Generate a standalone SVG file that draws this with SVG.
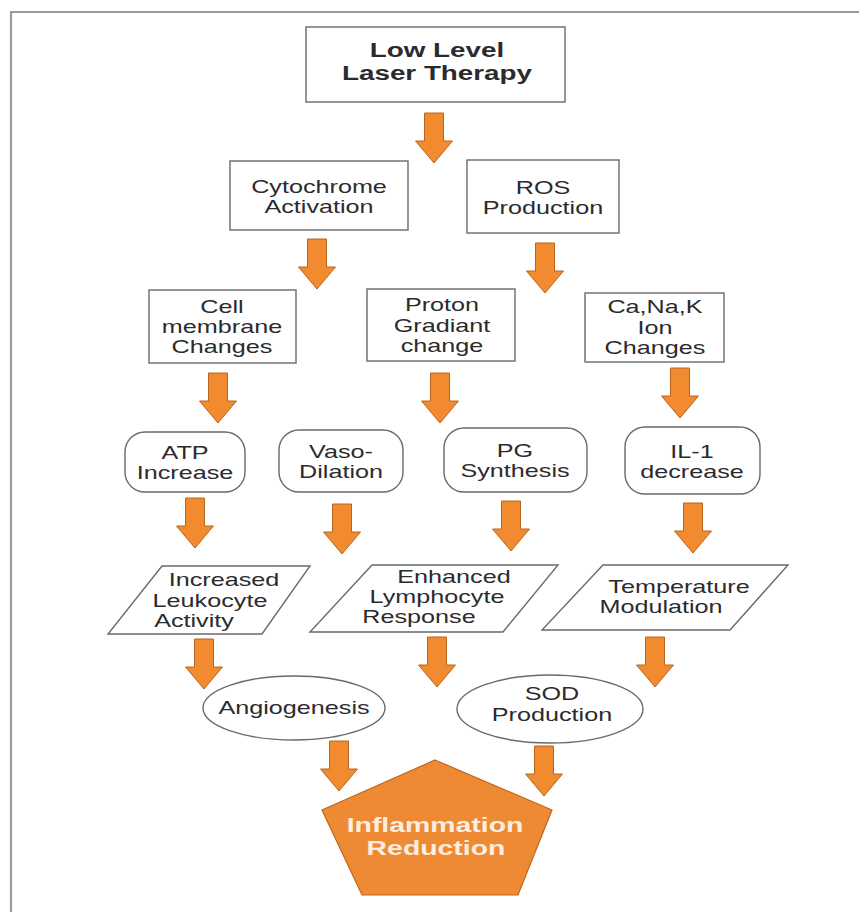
<svg xmlns="http://www.w3.org/2000/svg" xmlns:xlink="http://www.w3.org/1999/xlink" width="859" height="912" viewBox="0 0 859 912">
<style>
.box{fill:#ffffff;stroke:#6a6a6a;stroke-width:1.4}
.t{font-family:"Liberation Sans",Arial,sans-serif;font-size:18px;fill:#2b2b2e;text-anchor:middle}
.tb{font-family:"Liberation Sans",Arial,sans-serif;font-size:20px;font-weight:bold;fill:#2b2b2e;text-anchor:middle}
.tw{font-family:"Liberation Sans",Arial,sans-serif;font-size:20px;font-weight:bold;fill:#fbeee0;text-anchor:middle}
.arr{fill:#F28B30;stroke:#b8641e;stroke-width:1}
</style>
<defs>
<path id="arrow" d="M-9.5,0 H9.5 V28 H18.5 L0,50 L-18.5,28 H-9.5 Z"/>
</defs>
<rect width="859" height="912" fill="#ffffff"/>
<path d="M11,912 V12 H859" fill="none" stroke="#9a9a9a" stroke-width="2.2"/>

<g id="connectors" class="arr">
<use href="#arrow" x="434" y="113"/>
<use href="#arrow" x="317" y="239"/>
<use href="#arrow" x="545" y="243"/>
<use href="#arrow" x="218" y="373"/>
<use href="#arrow" x="440" y="373"/>
<use href="#arrow" x="680" y="368"/>
<use href="#arrow" x="195" y="498"/>
<use href="#arrow" x="342" y="504"/>
<use href="#arrow" x="511" y="501"/>
<use href="#arrow" x="693" y="503"/>
<use href="#arrow" x="204" y="639"/>
<use href="#arrow" x="437" y="637"/>
<use href="#arrow" x="655" y="637"/>
<use href="#arrow" x="339" y="741"/>
<use href="#arrow" x="544" y="746"/>
</g>

<g id="llt">
<rect class="box" x="306" y="27" width="259" height="75"/>
<text class="tb" transform="translate(437,57) scale(1.39,1)">Low Level</text>
<text class="tb" transform="translate(437,80) scale(1.39,1)">Laser Therapy</text>
</g>
<g id="cytochrome">
<rect class="box" x="230" y="161" width="178" height="69"/>
<text class="t" transform="translate(319,193) scale(1.4,1)">Cytochrome</text>
<text class="t" transform="translate(319,213) scale(1.4,1)">Activation</text>
</g>
<g id="ros">
<rect class="box" x="467" y="160" width="152" height="73"/>
<text class="t" transform="translate(543,194) scale(1.4,1)">ROS</text>
<text class="t" transform="translate(543,214) scale(1.4,1)">Production</text>
</g>
<g id="cellmembrane">
<rect class="box" x="149" y="290" width="147" height="73"/>
<text class="t" transform="translate(222,313) scale(1.4,1)">Cell</text>
<text class="t" transform="translate(222,333) scale(1.4,1)">membrane</text>
<text class="t" transform="translate(222,353) scale(1.4,1)">Changes</text>
</g>
<g id="proton">
<rect class="box" x="367" y="289" width="148" height="72"/>
<text class="t" transform="translate(442,311) scale(1.4,1)">Proton</text>
<text class="t" transform="translate(442,332) scale(1.4,1)">Gradiant</text>
<text class="t" transform="translate(442,352) scale(1.4,1)">change</text>
</g>
<g id="ions">
<rect class="box" x="585" y="293" width="139" height="69"/>
<text class="t" transform="translate(655,313) scale(1.4,1)">Ca,Na,K</text>
<text class="t" transform="translate(655,334) scale(1.4,1)">Ion</text>
<text class="t" transform="translate(655,354) scale(1.4,1)">Changes</text>
</g>
<g id="atp">
<rect class="box" x="125" y="432" width="120" height="60" rx="20"/>
<text class="t" transform="translate(185,459) scale(1.4,1)">ATP</text>
<text class="t" transform="translate(185,479) scale(1.4,1)">Increase</text>
</g>
<g id="vaso">
<rect class="box" x="279" y="430" width="124" height="62" rx="20"/>
<text class="t" transform="translate(341,458) scale(1.4,1)">Vaso-</text>
<text class="t" transform="translate(341,478) scale(1.4,1)">Dilation</text>
</g>
<g id="pg">
<rect class="box" x="444" y="428" width="143" height="64" rx="20"/>
<text class="t" transform="translate(515,457) scale(1.4,1)">PG</text>
<text class="t" transform="translate(515,477) scale(1.4,1)">Synthesis</text>
</g>
<g id="il1">
<rect class="box" x="625" y="427" width="135" height="67" rx="20"/>
<text class="t" transform="translate(692,458) scale(1.4,1)">IL-1</text>
<text class="t" transform="translate(692,478) scale(1.4,1)">decrease</text>
</g>
<g id="leukocyte">
<polygon class="box" points="162,566 310,566 262,634 108,634"/>
<text class="t" transform="translate(224,586) scale(1.4,1)">Increased</text>
<text class="t" transform="translate(210,607) scale(1.4,1)">Leukocyte</text>
<text class="t" transform="translate(194,627) scale(1.4,1)">Activity</text>
</g>
<g id="lymphocyte">
<polygon class="box" points="372,565 558,565 503,632 310,632"/>
<text class="t" transform="translate(454,583) scale(1.4,1)">Enhanced</text>
<text class="t" transform="translate(437,603) scale(1.4,1)">Lymphocyte</text>
<text class="t" transform="translate(419,623) scale(1.4,1)">Response</text>
</g>
<g id="temperature">
<polygon class="box" points="603,565 788,565 730,630 542,630"/>
<text class="t" transform="translate(679,593) scale(1.4,1)">Temperature</text>
<text class="t" transform="translate(661,613) scale(1.4,1)">Modulation</text>
</g>
<g id="angiogenesis">
<ellipse class="box" cx="294" cy="708" rx="91" ry="32"/>
<text class="t" transform="translate(294,714) scale(1.4,1)">Angiogenesis</text>
</g>
<g id="sod">
<ellipse class="box" cx="550" cy="709" rx="93" ry="34"/>
<text class="t" transform="translate(552,700) scale(1.4,1)">SOD</text>
<text class="t" transform="translate(552,721) scale(1.4,1)">Production</text>
</g>
<g id="inflammation">
<polygon points="435,760 552,810 518,895 362,895 322,810" fill="#EF8A34" stroke="#c0661c" stroke-width="1.2"/>
<text class="tw" transform="translate(435,832) scale(1.42,1)">Inflammation</text>
<text class="tw" transform="translate(436,855) scale(1.42,1)">Reduction</text>
</g>
</svg>
